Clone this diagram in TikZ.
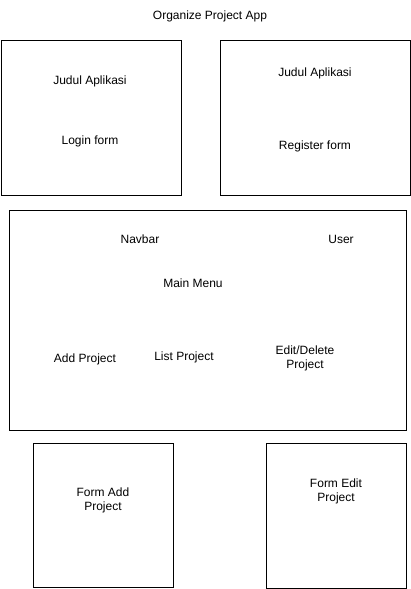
\documentclass[tikz,border=0pt]{standalone}
\usepackage{fontspec}
\setmainfont{Liberation Sans}
\usetikzlibrary{positioning}

\begin{document}
\begin{tikzpicture}[x=1pt,y=-1pt,
	screen/.style={draw,line width=1pt,anchor=north west,inner sep=0pt},
	txt/.style={font=\fontsize{12}{14}\selectfont,align=center,inner sep=0pt,yshift=-1pt}]
	\useasboundingbox (0,0) rectangle (411,589);
	
	\node [txt] (title) at (210,15) {Organize Project App};
	
	% login and register screens
	\node [screen,minimum width=180pt,minimum height=155pt] (login) at (1,40) {};
	\node [screen,minimum width=190pt,minimum height=155pt] (register) at (220,40) {};
	\node [txt] (loginjudul) at (90,80) {Judul Aplikasi};
	\node [txt] (loginform) at (90,140) {Login form};
	\node [txt] (regjudul) at (315,72) {Judul Aplikasi};
	\node [txt] (regform) at (315,145) {Register form};
	
	% main menu
	\node [screen,minimum width=397pt,minimum height=220pt] (menu) at (9,210) {};
	\node [txt] (navbar) at (140,238) {Navbar};
	\node [txt] (user) at (341,238) {User};
	\node [txt] (mainmenu) at (193,282) {Main Menu};
	\node [txt] (add) at (85,358) {Add Project};
	\node [txt] (list) at (184,356) {List Project};
	\node [txt] (edit) at (305,357) {Edit/Delete\\Project};
	
	% forms
	\node [screen,minimum width=140pt,minimum height=144pt] (formadd) at (33,443) {};
	\node [screen,minimum width=140pt,minimum height=145pt] (formedit) at (266,443) {};
	\node [txt] (addtxt) at (103,499) {Form Add\\Project};
	\node [txt] (edittxt) at (336,490) {Form Edit\\Project};
	
\end{tikzpicture}
\end{document}
